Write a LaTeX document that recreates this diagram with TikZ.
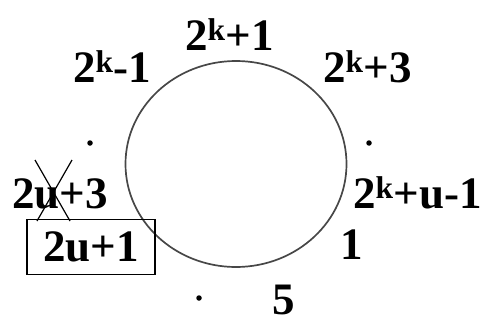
\documentclass[tikz,border=0pt]{standalone}
\usepackage{fontspec}
\setmainfont{Liberation Serif}
\usetikzlibrary{positioning, shapes.geometric}
\tikzset{
  ring/.style = {ellipse, draw=black!72, line width=1.7pt, minimum width=221pt, minimum height=206pt, inner sep=0pt},
  lbl/.style = {inner sep=0pt, anchor=base west, font=\fontsize{45}{48}\selectfont\bfseries},
  markedbox/.style = {inner sep=0pt, font=\fontsize{45}{48}\selectfont\bfseries, draw=black, line width=1.3pt, minimum width=128pt, minimum height=55pt},
  gap/.style = {circle, fill=black, inner sep=0pt, minimum size=5.5pt},
  crossout/.style = {line width=1.2pt}
}
\newcommand{\pw}[1]{2\textsuperscript{k}#1}

\begin{document}
\begin{tikzpicture}[x=1pt, y=-1pt]
\useasboundingbox (0,0) rectangle (484,324);
\node[ring] (cyc) at (236,164) {};

\node[lbl] (top) at (185,50) {\pw{+1}};
\node[lbl] (left) at (73,82) {\pw{-1}};
\node[lbl] (right) at (323,82) {\pw{+3}};
\node[gap] (dotr) at (369,143) {};
\node[lbl] (far) at (353,208) {\pw{+u-1}};
\node[lbl] (one) at (340,259) {1};
\node[lbl] (five) at (272,314) {5};
\node[gap] (dotb) at (199,298) {};
\node[gap] (dotl) at (90,143) {};
\node[lbl] (old) at (12,208) {2u+3};
\node[markedbox] (new) at (91,247) {2u+1};

% struck-out label
\draw[crossout] (35,160) -- (70,221);
\draw[crossout] (72,160) -- (37,221);
\end{tikzpicture}
\end{document}
